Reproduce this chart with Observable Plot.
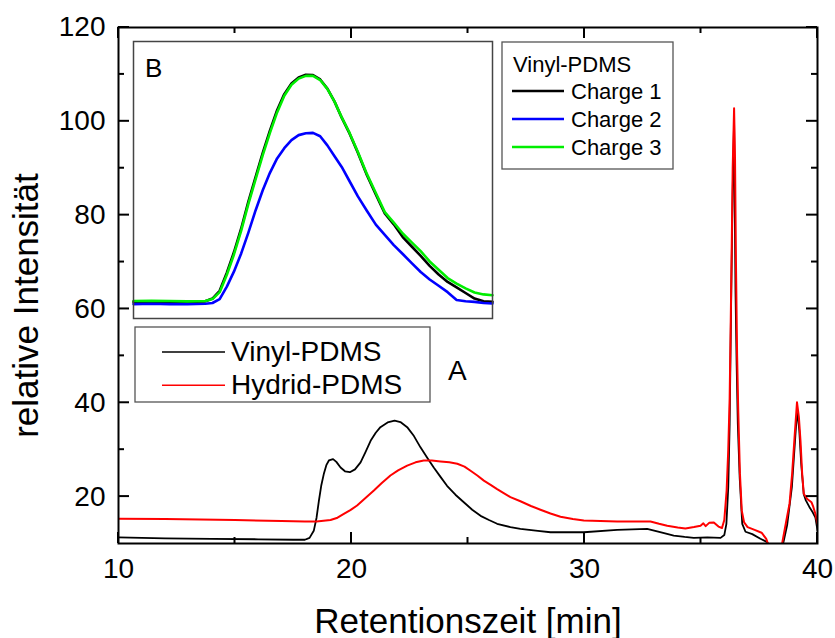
<!DOCTYPE html>
<html><head><meta charset="utf-8">
<script src="https://cdn.jsdelivr.net/npm/d3@7"></script>
<script src="https://cdn.jsdelivr.net/npm/@observablehq/plot@0.6"></script>
<style>
body{margin:0;background:#fff;}
#wrap{position:relative;width:835px;height:638px;font-family:"Liberation Sans",Arial,sans-serif;}
#wrap > *{position:absolute;}
</style></head><body><div id="wrap"></div>
<script>
// ---- main chart (A) ----
const seriesNames = ["Vinyl-PDMS", "Hydrid-PDMS"];
const seriesColors = ["#000000", "#ff0000"];
const vinylT = [10,12,14,16,17.5,18.0,18.2,18.38,18.5,18.6,18.7,18.81,18.92,19.03,19.21,19.35,19.53,19.72,19.93,20.15,20.39,20.6,20.82,21.04,21.24,21.55,21.85,22.1,22.39,22.68,22.96,23.25,23.53,23.82,24.1,24.46,24.82,25.18,25.54,25.9,26.25,26.82,27.25,28.0,28.54,29.97,31.4,32.69,33.12,33.5,33.83,34.3,34.69,35.27,35.84,36.0,36.09,36.17,36.23,36.3,36.36,36.42,36.48,36.53,36.58,36.66,36.77,36.91,37.2,37.55,37.84,38.0,38.2,38.45,38.55,38.7,38.9,39.05,39.13,39.22,39.3,39.41,39.5,39.65,39.8,39.91,40];
const vinylI = [11.3,11.1,11.0,10.9,10.8,10.8,11.2,12.7,15.5,19.1,22.3,24.8,26.7,27.7,28.0,27.4,26.2,25.4,25.2,25.8,27.3,29.5,31.9,33.6,34.8,35.8,36.2,35.9,34.8,32.9,30.5,28.3,26.2,24.2,22.3,20.4,18.8,17.2,15.9,15.0,14.2,13.5,13.1,12.7,12.4,12.4,12.9,13.1,12.6,12.1,11.7,11.4,11.2,11.3,11.2,11.8,14.2,22,35.5,63.9,85,100,64,48,35.5,24,14.2,12.5,12.0,11.0,10.3,8.5,7.5,8.5,10.5,14.0,22.0,33.0,38.5,34,27,20.5,19.2,17.8,16.6,15.5,12.8];
const hydridT = [10,12,15,17,18,18.5,19.1,19.4,19.67,19.95,20.24,20.6,20.96,21.3,21.67,22.0,22.39,22.75,23.1,23.45,23.82,24.2,24.54,24.85,25.11,25.4,25.68,25.97,26.25,26.55,26.82,27.25,27.7,28.11,28.54,28.97,29.5,29.97,31.4,32.83,33.2,33.55,34.0,34.33,34.7,34.98,35.1,35.2,35.35,35.55,35.75,35.9,36.0,36.1,36.17,36.23,36.3,36.36,36.42,36.46,36.5,36.55,36.6,36.67,36.75,36.85,37.0,37.3,37.6,37.8,37.94,38.2,38.45,38.5,38.69,38.8,38.91,39.02,39.12,39.2,39.27,39.34,39.41,39.56,39.74,39.82,39.91,40];
const hydridI = [15.3,15.2,15.0,14.8,14.7,14.7,15.0,15.5,16.3,17.1,18.1,19.7,21.3,22.9,24.5,25.6,26.6,27.3,27.7,27.7,27.5,27.3,27.0,26.4,25.5,24.5,23.4,22.5,21.6,20.7,19.9,19.0,18.0,17.2,16.4,15.7,15.2,14.9,14.7,14.7,14.2,13.8,13.4,13.2,13.5,13.8,14.3,13.7,14.4,14.5,13.6,13.3,15.0,21.3,30,41,66,90,102.8,92,70,50,38,25,17,14.5,13.5,12.9,12.3,11.0,9.0,7.5,9.0,10.5,15.6,18.5,24.8,33,40.1,37,31.9,25,20.6,19.5,18.8,17.8,16.3,14.2];
const xMajor = [10, 20, 30, 40];
const xMinor = [15, 25, 35];
const yMajor = [20, 40, 60, 80, 100, 120];
const yMinor = [30, 50, 70, 90, 110];
const xLabel = "Retentionszeit [min]";
const yLabel = "relative Intensität";

// ---- inset (B) ----
const insetTitle = "Vinyl-PDMS";
const insetNames = ["Charge 1", "Charge 2", "Charge 3"];
const insetColors = ["#000000", "#0000ff", "#00ee00"];
const insetX = [0,5,10,15,20,22,24,26,28,30,32,34,36,38,40,42,44,46,48,50,52,54,56,58,60,62.5,65,67.5,70,72.5,75,77.5,80,82.5,85,87.5,90,92.5,95,97.5,100];
const charge1 = [6.0,6.2,6.1,6.0,6.2,7.2,10.0,16.5,24.0,32.5,42.2,51.0,59.8,67.8,75.2,81.0,84.8,87.0,88.0,87.9,86.3,83.0,78.3,72.5,67.3,59.8,51.8,44.8,37.9,34.0,29.4,26.0,22.6,19.0,15.9,13.2,11.2,9.2,7.2,6.2,6.0];
const charge2 = [5.2,5.3,5.2,5.2,5.3,5.6,7.0,11.5,17.0,23.5,31.0,39.0,46.3,52.6,57.8,61.5,64.4,66.2,66.9,67.0,65.8,62.5,58.6,54.7,50.0,44.1,38.9,33.9,30.2,26.5,23.3,20.0,16.8,14.1,11.8,9.5,6.7,6.2,6.0,5.6,5.4];
const charge3 = [6.3,6.4,6.3,6.2,6.3,7.0,9.5,15.8,23.2,31.7,41.4,50.2,59.0,67.0,74.4,80.4,84.4,86.6,87.6,87.6,86.1,82.9,78.3,72.6,67.5,60.1,52.2,45.3,38.4,34.6,30.7,27.5,24.3,20.6,17.6,14.6,12.6,10.9,9.4,8.7,8.4];

const FONT = '"Liberation Sans", Arial, sans-serif';
const vinyl = vinylT.map((t, i) => ({t, v: vinylI[i]}));
const hydrid = hydridT.map((t, i) => ({t, v: hydridI[i]}));

const W = 835, H = 638, ML = 118, MR = 18, MT = 27, MB = 95;
const MAJ = 11, MIN = 6;
const main = Plot.plot({
  width: W, height: H,
  marginLeft: ML, marginRight: MR, marginTop: MT, marginBottom: MB,
  x: {domain: [10, 40], label: null},
  y: {domain: [10, 120], label: null},
  style: {fontFamily: FONT, background: "white", color: "black", overflow: "visible"},
  marks: [
    Plot.line(vinyl, {x: "t", y: "v", stroke: seriesColors[0], strokeWidth: 1.8, clip: true}),
    Plot.line(hydrid, {x: "t", y: "v", stroke: seriesColors[1], strokeWidth: 2, clip: true}),
    Plot.axisX(xMajor, {anchor: "bottom", tickSize: 0, tickPadding: 15, fontSize: 28, label: null}),
    Plot.axisY(yMajor, {anchor: "left", tickSize: 0, tickPadding: 13, fontSize: 28, label: null}),
    Plot.frame({stroke: "black", strokeWidth: 2}),
    Plot.text([xLabel], {text: d => d, frameAnchor: "bottom", dy: 89, fontSize: 35, lineAnchor: "bottom"}),
    Plot.text([yLabel], {text: d => d, frameAnchor: "left", textAnchor: "middle", dx: -81, dy: 20, rotate: -90, fontSize: 35, lineAnchor: "bottom"})
  ]
});
const wrap = document.getElementById("wrap");
main.style.left = "0px"; main.style.top = "0px";
wrap.appendChild(main);

const insetData = [];
insetX.forEach((x, i) => { insetData.push({x, v: charge1[i], s: insetNames[0]}); });
insetX.forEach((x, i) => { insetData.push({x, v: charge2[i], s: insetNames[1]}); });
insetX.forEach((x, i) => { insetData.push({x, v: charge3[i], s: insetNames[2]}); });

const inset = Plot.plot({
  width: 361, height: 279, margin: 1,
  x: {domain: [0, 100], axis: null},
  y: {domain: [0, 100], axis: null},
  color: {domain: insetNames, range: insetColors},
  style: {background: "white", overflow: "visible"},
  marks: [
    Plot.line(insetData, {x: "x", y: "v", z: "s", stroke: "s", strokeWidth: 2.6}),
    Plot.frame({stroke: "#444", strokeWidth: 1.5})
  ]
});
inset.style.left = "132px"; inset.style.top = "40px";
wrap.appendChild(inset);

// ---- overlay: inward ticks (positions from Plot's scales), legends, panel letters ----
const sx = main.scale("x"), sy = main.scale("y");
const ov = d3.create("svg").attr("width", W).attr("height", H)
  .style("left", "0px").style("top", "0px").style("pointer-events", "none")
  .style("font-family", FONT);
const tg = ov.append("g").attr("stroke", "black").attr("stroke-width", 2);
[[xMajor, MAJ], [xMinor, MIN]].forEach(([vals, len]) => vals.forEach(v => {
  const px = sx.apply(v);
  tg.append("line").attr("x1", px).attr("x2", px).attr("y1", H - MB).attr("y2", H - MB - len);
  tg.append("line").attr("x1", px).attr("x2", px).attr("y1", MT).attr("y2", MT + len);
}));
[[yMajor, MAJ], [yMinor, MIN]].forEach(([vals, len]) => vals.forEach(v => {
  const py = sy.apply(v);
  tg.append("line").attr("y1", py).attr("y2", py).attr("x1", ML).attr("x2", ML + len);
  tg.append("line").attr("y1", py).attr("y2", py).attr("x1", W - MR).attr("x2", W - MR - len);
}));

// main legend
ov.append("rect").attr("x", 135).attr("y", 327).attr("width", 295).attr("height", 75)
  .attr("fill", "white").attr("stroke", "#555").attr("stroke-width", 1.3);
seriesNames.forEach((n, i) => {
  const y = 352 + i * 33.3;
  ov.append("line").attr("x1", 162).attr("x2", 225).attr("y1", y).attr("y2", y)
    .attr("stroke", seriesColors[i]).attr("stroke-width", 1.6);
  ov.append("text").attr("x", 231).attr("y", y + 8.5).attr("font-size", 28).text(n);
});

// inset legend
ov.append("rect").attr("x", 502).attr("y", 42).attr("width", 171).attr("height", 127)
  .attr("fill", "white").attr("stroke", "#555").attr("stroke-width", 1.3);
ov.append("text").attr("x", 513).attr("y", 72).attr("font-size", 22).text(insetTitle);
insetNames.forEach((n, i) => {
  const y = 91 + i * 28;
  ov.append("line").attr("x1", 512).attr("x2", 564).attr("y1", y).attr("y2", y)
    .attr("stroke", insetColors[i]).attr("stroke-width", 2.6);
  ov.append("text").attr("x", 571).attr("y", y + 8.3).attr("font-size", 22).text(n);
});

ov.append("text").attr("x", 145).attr("y", 76.5).attr("font-size", 26).text("B");
ov.append("text").attr("x", 448).attr("y", 380).attr("font-size", 28).text("A");

wrap.appendChild(ov.node());
</script>
</body></html>
